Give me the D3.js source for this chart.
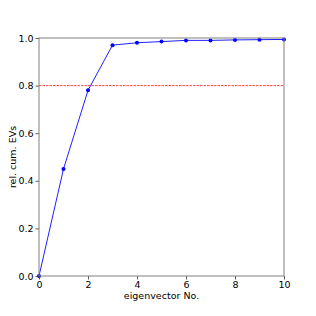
<!DOCTYPE html>
<html>
<head>
<meta charset="utf-8">
<script src="https://cdn.jsdelivr.net/npm/d3@7"></script>
<style>
  body { margin: 0; background: #fff; }
  text { font-family: "DejaVu Sans", sans-serif; }
</style>
</head>
<body>
<div id="vis"></div>
<script>
const eigNo = [0, 1, 2, 3, 4, 5, 6, 7, 8, 9, 10];
const cumEV = [0, 0.45, 0.78, 0.97, 0.98, 0.985, 0.99, 0.99, 0.992, 0.993, 0.994];
const threshold = 0.8;
const xTicks = [0, 2, 4, 6, 8, 10];
const yTicks = [0, 0.2, 0.4, 0.6, 0.8, 1.0];

const W = 316, H = 316;
const margin = {left: 39, right: 32, top: 38, bottom: 40};
const fs = 9.5;

const svg = d3.select("#vis").append("svg").attr("width", W).attr("height", H);

const x = d3.scaleLinear().domain([0, 10]).range([margin.left, W - margin.right]);
const y = d3.scaleLinear().domain([0, 1]).range([H - margin.bottom, margin.top]);

// threshold line
svg.append("line")
  .attr("x1", x(0)).attr("x2", x(10))
  .attr("y1", y(threshold)).attr("y2", y(threshold))
  .attr("stroke", "#ff4848").attr("stroke-width", 1)
  .attr("stroke-dasharray", "2.5,1");

// data line
const line = d3.line().x((d, i) => x(eigNo[i])).y(d => y(d));
svg.append("path").datum(cumEV)
  .attr("d", line)
  .attr("fill", "none").attr("stroke", "#2020ff").attr("stroke-width", 1);

svg.selectAll("circle.pt").data(cumEV).enter()
  .append("circle").attr("class", "pt")
  .attr("cx", (d, i) => x(eigNo[i])).attr("cy", d => y(d))
  .attr("r", 2).attr("fill", "#0000ff");

// axes
const xAxis = svg.append("g").attr("transform", `translate(0,${y(0)})`)
  .call(d3.axisBottom(x).tickValues(xTicks).tickFormat(d3.format("d")).tickSize(3.5).tickPadding(1.5));
const yAxis = svg.append("g").attr("transform", `translate(${x(0)},0)`)
  .call(d3.axisLeft(y).tickValues(yTicks).tickFormat(d3.format(".1f")).tickSize(3.5).tickPadding(2));

[xAxis, yAxis].forEach(g => {
  g.selectAll("path").remove();
  g.selectAll("line").attr("stroke", "#333").attr("stroke-width", 0.8);
  g.selectAll("text").attr("font-size", fs).attr("fill", "#000")
    .attr("font-family", "DejaVu Sans, sans-serif");
});

// frame (spines)
svg.append("rect")
  .attr("x", x(0)).attr("y", y(1))
  .attr("width", x(10) - x(0)).attr("height", y(0) - y(1))
  .attr("fill", "none").attr("stroke", "#808080").attr("stroke-width", 1);

svg.append("text")
  .attr("x", (x(0) + x(10)) / 2).attr("y", 299)
  .attr("text-anchor", "middle").attr("font-size", fs)
  .text("eigenvector No.");

svg.append("text")
  .attr("transform", `translate(16,${(y(0) + y(1)) / 2}) rotate(-90)`)
  .attr("text-anchor", "middle").attr("font-size", fs)
  .text("rel. cum. EVs");
</script>
</body>
</html>
